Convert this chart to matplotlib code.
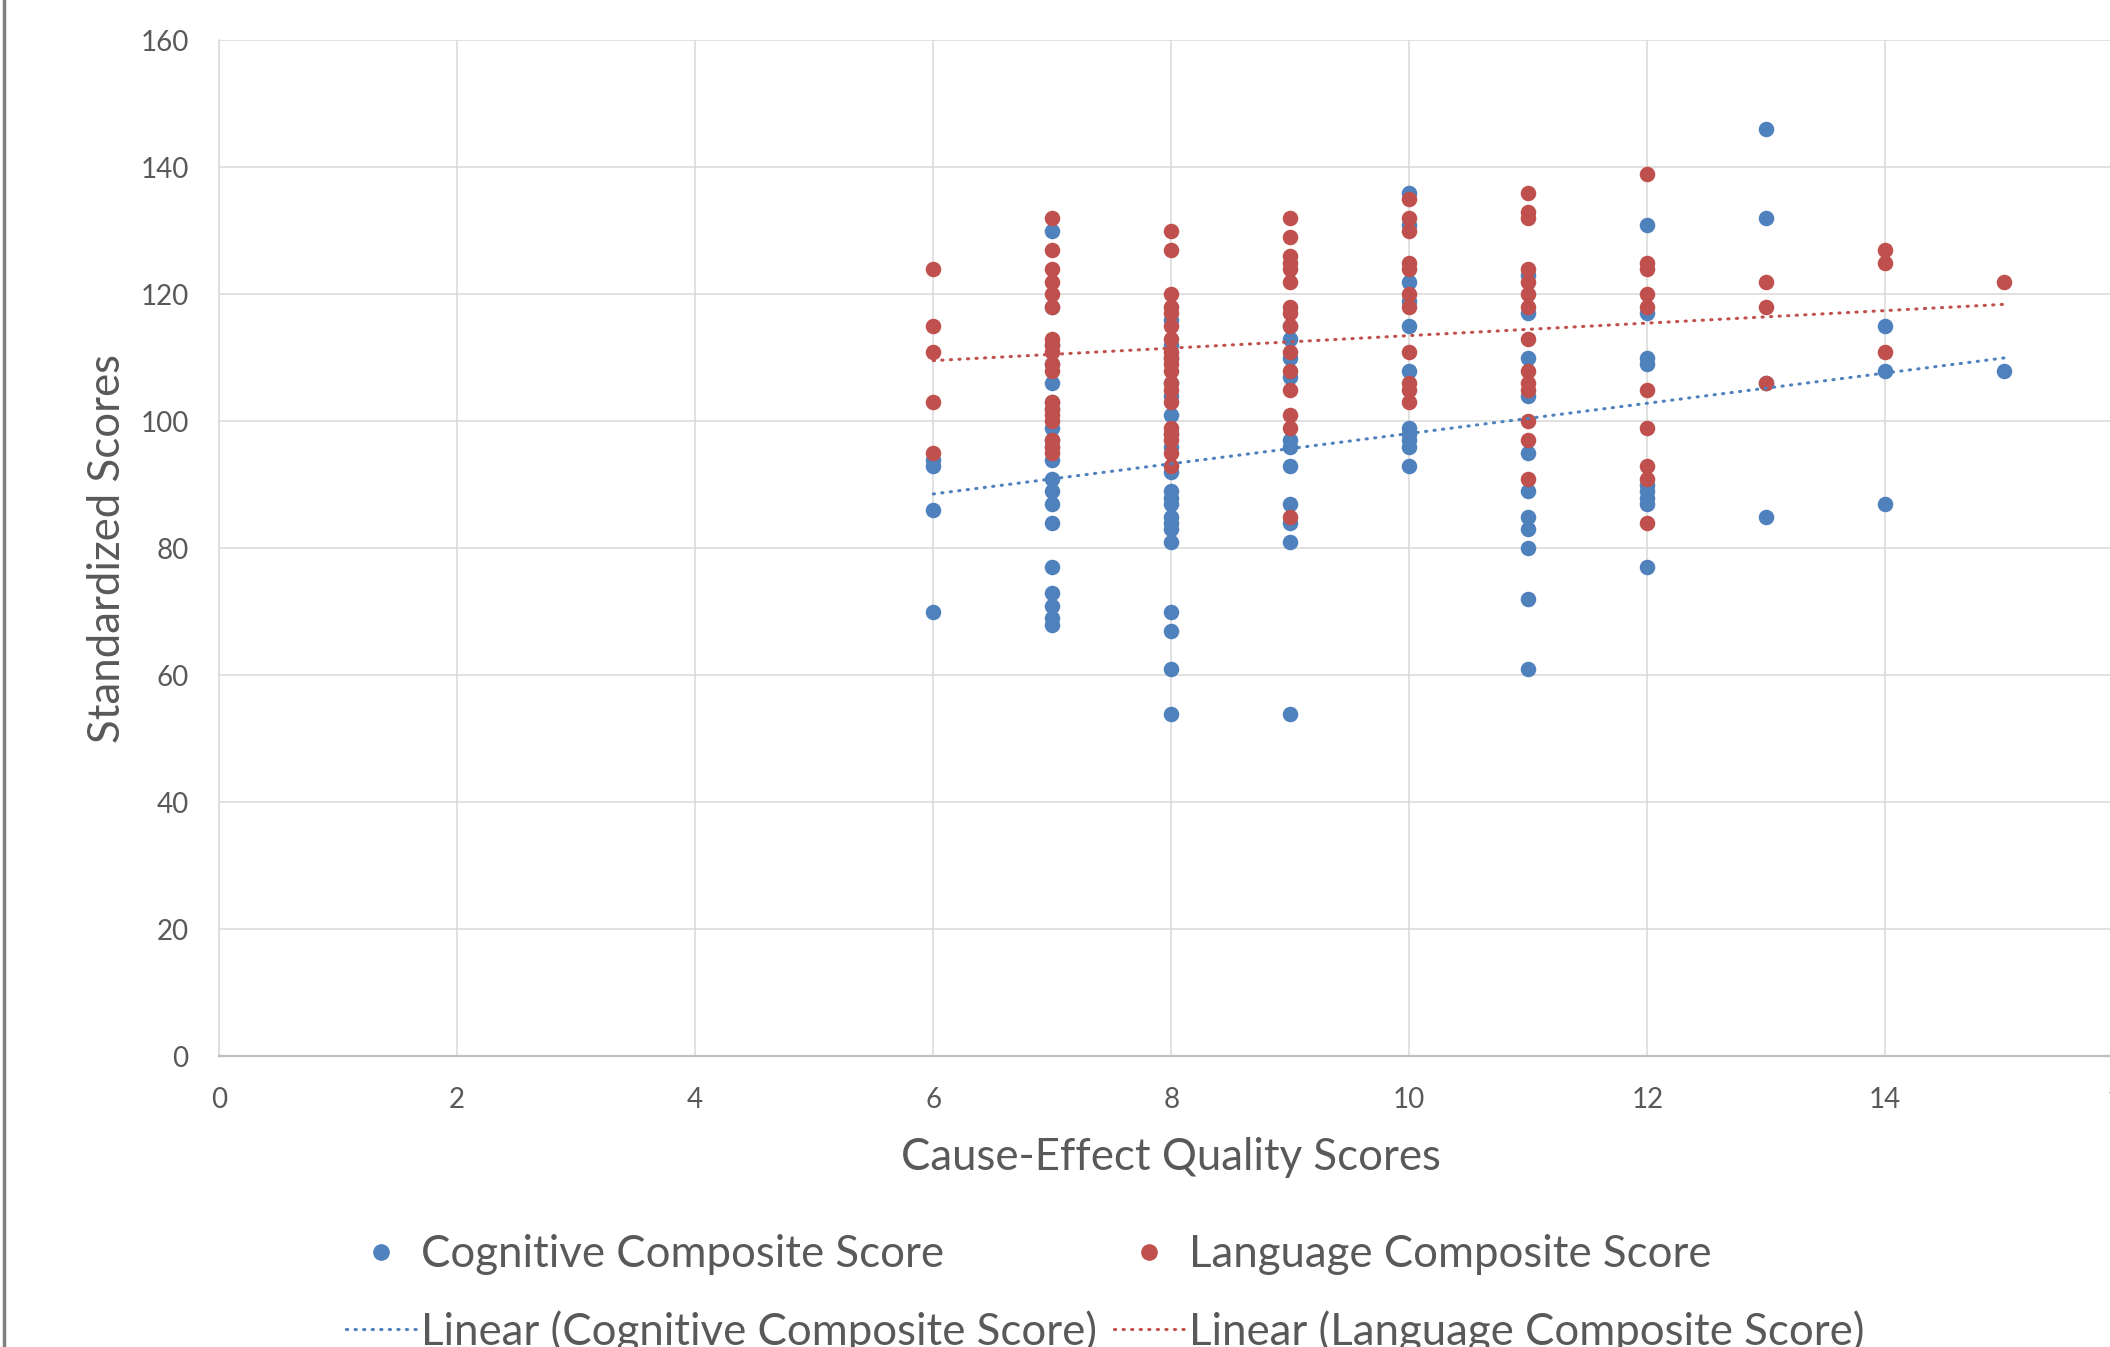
import numpy as np
import matplotlib.pyplot as plt
from matplotlib.lines import Line2D

plt.rcParams['font.family'] = ['Lato', 'DejaVu Sans']

# Cause-effect quality score (x) and the two composite scores (y)
cog_x = [6] * 4 + [7] * 20 + [8] * 20 + [9] * 11 + [10] * 11 + [11] * 11 + [12] * 9 + [13] * 4 + [14] * 3 + [15]
cog_y = [94, 93, 86, 70,
         130, 118, 112, 109, 106, 103, 102, 99, 97, 96, 94, 91, 89, 87, 84, 77, 73, 71, 69, 68,
         116, 112, 110, 106, 104, 101, 98, 96, 92, 89, 88, 87, 85, 84, 83, 81, 70, 67, 61, 54,
         115, 113, 110, 107, 97, 96, 93, 87, 84, 81, 54,
         136, 131, 122, 119, 115, 108, 99, 98, 97, 96, 93,
         123, 117, 110, 104, 95, 89, 85, 83, 80, 72, 61,
         131, 117, 110, 109, 90, 89, 88, 87, 77,
         146, 132, 106, 85,
         115, 108, 87,
         108]

lang_x = [6] * 5 + [7] * 18 + [8] * 19 + [9] * 15 + [10] * 11 + [11] * 14 + [12] * 10 + [13] * 3 + [14] * 3 + [15]
lang_y = [124, 115, 111, 103, 95,
          132, 127, 124, 122, 120, 118, 113, 112, 111, 109, 108, 103, 102, 101, 100, 97, 96, 95,
          130, 127, 120, 118, 117, 115, 113, 111, 110, 109, 108, 106, 105, 103, 99, 98, 97, 95, 93,
          132, 129, 126, 125, 124, 122, 118, 117, 115, 111, 108, 105, 101, 99, 85,
          135, 132, 130, 125, 124, 120, 118, 111, 106, 105, 103,
          136, 133, 132, 124, 122, 120, 118, 113, 108, 106, 105, 100, 97, 91,
          139, 125, 124, 120, 118, 105, 99, 93, 91, 84,
          122, 118, 106,
          127, 125, 111,
          122]

x_ticks = list(range(0, 17, 2))
y_ticks = list(range(0, 161, 20))

BLUE = '#4F81BD'
RED = '#C0504D'
TXT = '#595959'
DOTS = (0, (0.4, 2.4))

fig = plt.figure(figsize=(21.1, 13.47), dpi=100)
ax = fig.add_axes([0.1039, 0.2157, 0.9024, 0.7543])

ax.scatter(cog_x, cog_y, s=125, color=BLUE, linewidths=0, zorder=3)
ax.scatter(lang_x, lang_y, s=125, color=RED, linewidths=0, zorder=3)

# linear trendlines over the data range
xs = np.array([min(cog_x), max(cog_x)])
k, b = np.polyfit(cog_x, cog_y, 1)
ax.plot(xs, k * xs + b, color=BLUE, lw=2.2, linestyle=DOTS,
        dash_capstyle='round', zorder=4)
xs = np.array([min(lang_x), max(lang_x)])
k, b = np.polyfit(lang_x, lang_y, 1)
ax.plot(xs, k * xs + b, color=RED, lw=2.2, linestyle=DOTS,
        dash_capstyle='round', zorder=4)

ax.set_xlim(0, 16)
ax.set_ylim(0, 160)
ax.set_xticks(x_ticks)
ax.set_yticks(y_ticks)
ax.grid(True, color='#D9D9D9', lw=1.1, zorder=0)
ax.set_axisbelow(True)
for s in ['top', 'right']:
    ax.spines[s].set_visible(False)
ax.spines['left'].set_color('#D9D9D9')
ax.spines['left'].set_linewidth(1.1)
ax.spines['bottom'].set_color('#BFBFBF')
ax.spines['bottom'].set_linewidth(1.6)
ax.tick_params(length=0, labelsize=20, labelcolor=TXT)
ax.tick_params(axis='x', pad=22)
ax.tick_params(axis='y', pad=22)

ax.set_xlabel('Cause-Effect Quality Scores', fontsize=31.5, color=TXT, labelpad=17)
ax.set_ylabel('Standardized Scores', fontsize=31.5, color=TXT, labelpad=9)

# legend, two columns laid out like Excel
h_cog = [Line2D([], [], marker='o', ls='none', color=BLUE, markersize=11),
         Line2D([], [], color=BLUE, lw=2.2, ls=DOTS, dash_capstyle='round')]
h_lang = [Line2D([], [], marker='o', ls='none', color=RED, markersize=11),
          Line2D([], [], color=RED, lw=2.2, ls=DOTS, dash_capstyle='round')]
leg_kw = dict(frameon=False, fontsize=31.5, handlelength=1.62, handletextpad=0.1,
              labelspacing=0.8, borderpad=0, borderaxespad=0, labelcolor=TXT,
              loc='upper left')
fig.legend(h_cog, ['Cognitive Composite Score', 'Linear (Cognitive Composite Score)'],
           bbox_to_anchor=(346 / 2110, 0.084), **leg_kw)
fig.legend(h_lang, ['Language Composite Score', 'Linear (Language Composite Score)'],
           bbox_to_anchor=(1114 / 2110, 0.084), **leg_kw)

# chart area border on the left edge
fig.add_artist(Line2D([3.5 / 2110, 3.5 / 2110], [0, 1], color='#7F7F7F', lw=2.5,
                      transform=fig.transFigure))

fig.savefig('out.png', dpi=100)
